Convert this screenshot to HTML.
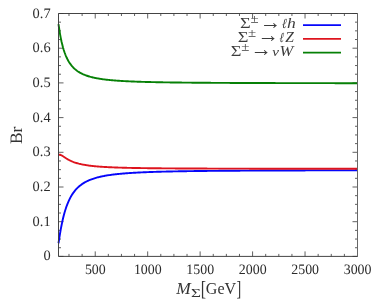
<!DOCTYPE html>
<html><head><meta charset="utf-8"><title>Br</title>
<style>html,body{margin:0;padding:0;background:#fff}body{width:382px;height:300px;overflow:hidden}</style></head>
<body>
<svg width="382" height="300" viewBox="0 0 382 300" style="display:block">
<rect width="382" height="300" fill="#fff"/>
<path d="M68.99,256.4 v-2.5 M68.99,13.5 v2.5 M82.11,256.4 v-2.5 M82.11,13.5 v2.5 M95.22,256.4 v-5 M95.22,13.5 v5 M108.33,256.4 v-2.5 M108.33,13.5 v2.5 M121.45,256.4 v-2.5 M121.45,13.5 v2.5 M134.56,256.4 v-2.5 M134.56,13.5 v2.5 M147.68,256.4 v-5 M147.68,13.5 v5 M160.79,256.4 v-2.5 M160.79,13.5 v2.5 M173.90,256.4 v-2.5 M173.90,13.5 v2.5 M187.02,256.4 v-2.5 M187.02,13.5 v2.5 M200.13,256.4 v-5 M200.13,13.5 v5 M213.25,256.4 v-2.5 M213.25,13.5 v2.5 M226.36,256.4 v-2.5 M226.36,13.5 v2.5 M239.47,256.4 v-2.5 M239.47,13.5 v2.5 M252.59,256.4 v-5 M252.59,13.5 v5 M265.70,256.4 v-2.5 M265.70,13.5 v2.5 M278.82,256.4 v-2.5 M278.82,13.5 v2.5 M291.93,256.4 v-2.5 M291.93,13.5 v2.5 M305.04,256.4 v-5 M305.04,13.5 v5 M318.16,256.4 v-2.5 M318.16,13.5 v2.5 M331.27,256.4 v-2.5 M331.27,13.5 v2.5 M344.39,256.4 v-2.5 M344.39,13.5 v2.5 M357.50,256.4 v-5 M357.50,13.5 v5 M58.5,256.40 h5 M357.5,256.40 h-5 M58.5,247.72 h2.5 M357.5,247.72 h-2.5 M58.5,239.05 h2.5 M357.5,239.05 h-2.5 M58.5,230.37 h2.5 M357.5,230.37 h-2.5 M58.5,221.70 h5 M357.5,221.70 h-5 M58.5,213.02 h2.5 M357.5,213.02 h-2.5 M58.5,204.35 h2.5 M357.5,204.35 h-2.5 M58.5,195.67 h2.5 M357.5,195.67 h-2.5 M58.5,187.00 h5 M357.5,187.00 h-5 M58.5,178.32 h2.5 M357.5,178.32 h-2.5 M58.5,169.65 h2.5 M357.5,169.65 h-2.5 M58.5,160.97 h2.5 M357.5,160.97 h-2.5 M58.5,152.30 h5 M357.5,152.30 h-5 M58.5,143.62 h2.5 M357.5,143.62 h-2.5 M58.5,134.95 h2.5 M357.5,134.95 h-2.5 M58.5,126.28 h2.5 M357.5,126.28 h-2.5 M58.5,117.60 h5 M357.5,117.60 h-5 M58.5,108.92 h2.5 M357.5,108.92 h-2.5 M58.5,100.25 h2.5 M357.5,100.25 h-2.5 M58.5,91.57 h2.5 M357.5,91.57 h-2.5 M58.5,82.90 h5 M357.5,82.90 h-5 M58.5,74.22 h2.5 M357.5,74.22 h-2.5 M58.5,65.55 h2.5 M357.5,65.55 h-2.5 M58.5,56.87 h2.5 M357.5,56.87 h-2.5 M58.5,48.20 h5 M357.5,48.20 h-5 M58.5,39.52 h2.5 M357.5,39.52 h-2.5 M58.5,30.85 h2.5 M357.5,30.85 h-2.5 M58.5,22.17 h2.5 M357.5,22.17 h-2.5 M58.5,13.50 h5 M357.5,13.50 h-5" stroke="#454545" stroke-width="0.85" fill="none"/>
<g fill="none" stroke-width="1.9" stroke-linejoin="round" stroke-linecap="butt">
<path d="M58.50,242.81 L59.25,237.91 L60.00,233.29 L60.75,228.99 L61.50,225.04 L62.25,221.43 L63.00,218.12 L63.75,215.10 L64.49,212.33 L65.24,209.80 L65.99,207.48 L66.74,205.34 L67.49,203.38 L68.24,201.57 L68.99,199.90 L69.74,198.35 L70.49,196.91 L71.24,195.58 L71.99,194.34 L72.74,193.19 L73.49,192.11 L74.24,191.11 L74.99,190.17 L75.74,189.29 L76.48,188.46 L77.23,187.69 L77.98,186.96 L78.73,186.27 L79.48,185.62 L80.23,185.01 L80.98,184.44 L81.73,183.89 L82.48,183.38 L83.23,182.89 L83.98,182.43 L84.73,181.99 L85.48,181.57 L86.23,181.17 L86.98,180.80 L87.73,180.44 L88.47,180.09 L89.22,179.77 L89.97,179.46 L90.72,179.16 L91.47,178.88 L92.22,178.60 L92.97,178.34 L93.72,178.10 L94.47,177.86 L95.22,177.63 L95.97,177.41 L96.72,177.20 L97.47,177.00 L98.22,176.80 L98.97,176.62 L99.72,176.44 L100.46,176.27 L101.21,176.10 L101.96,175.94 L102.71,175.79 L103.46,175.64 L104.21,175.49 L104.96,175.36 L105.71,175.22 L106.46,175.09 L107.21,174.97 L107.96,174.85 L108.71,174.73 L109.46,174.62 L110.21,174.51 L110.96,174.41 L111.71,174.31 L112.45,174.21 L113.20,174.11 L113.95,174.02 L114.70,173.93 L115.45,173.84 L116.20,173.76 L116.95,173.68 L117.70,173.60 L118.45,173.52 L119.20,173.45 L119.95,173.37 L120.70,173.30 L121.45,173.23 L122.20,173.17 L122.95,173.10 L123.70,173.04 L124.44,172.98 L125.19,172.92 L125.94,172.86 L126.69,172.80 L127.44,172.75 L128.19,172.69 L128.94,172.64 L129.69,172.59 L130.44,172.54 L131.19,172.49 L131.94,172.45 L132.69,172.40 L133.44,172.35 L134.19,172.31 L134.94,172.27 L135.69,172.23 L136.43,172.18 L137.18,172.15 L137.93,172.11 L138.68,172.07 L139.43,172.03 L140.18,171.99 L140.93,171.96 L141.68,171.92 L142.43,171.89 L143.18,171.86 L143.93,171.83 L144.68,171.79 L145.43,171.76 L146.18,171.73 L146.93,171.70 L147.68,171.67 L148.42,171.64 L149.17,171.62 L149.92,171.59 L150.67,171.56 L151.42,171.54 L152.17,171.51 L152.92,171.49 L153.67,171.46 L154.42,171.44 L155.17,171.41 L155.92,171.39 L156.67,171.37 L157.42,171.35 L158.17,171.32 L158.92,171.30 L159.67,171.28 L160.41,171.26 L161.16,171.24 L161.91,171.22 L162.66,171.20 L163.41,171.18 L164.16,171.16 L164.91,171.14 L165.66,171.13 L166.41,171.11 L167.16,171.09 L167.91,171.07 L168.66,171.06 L169.41,171.04 L170.16,171.02 L170.91,171.01 L171.66,170.99 L172.40,170.98 L173.15,170.96 L173.90,170.95 L174.65,170.93 L175.40,170.92 L176.15,170.90 L176.90,170.89 L177.65,170.88 L178.40,170.86 L179.15,170.85 L179.90,170.84 L180.65,170.82 L181.40,170.81 L182.15,170.80 L182.90,170.79 L183.65,170.77 L184.39,170.76 L185.14,170.75 L185.89,170.74 L186.64,170.73 L187.39,170.72 L188.14,170.71 L188.89,170.70 L189.64,170.68 L190.39,170.67 L191.14,170.66 L191.89,170.65 L192.64,170.64 L193.39,170.63 L194.14,170.62 L194.89,170.61 L195.64,170.61 L196.38,170.60 L197.13,170.59 L197.88,170.58 L198.63,170.57 L199.38,170.56 L200.13,170.55 L200.88,170.54 L201.63,170.53 L202.38,170.53 L203.13,170.52 L203.88,170.51 L204.63,170.50 L205.38,170.49 L206.13,170.49 L206.88,170.48 L207.63,170.47 L208.37,170.46 L209.12,170.46 L209.87,170.45 L210.62,170.44 L211.37,170.44 L212.12,170.43 L212.87,170.42 L213.62,170.42 L214.37,170.41 L215.12,170.40 L215.87,170.40 L216.62,170.39 L217.37,170.38 L218.12,170.38 L218.87,170.37 L219.62,170.36 L220.36,170.36 L221.11,170.35 L221.86,170.35 L222.61,170.34 L223.36,170.33 L224.11,170.33 L224.86,170.32 L225.61,170.32 L226.36,170.31 L227.11,170.31 L227.86,170.30 L228.61,170.30 L229.36,170.29 L230.11,170.29 L230.86,170.28 L231.61,170.28 L232.35,170.27 L233.10,170.27 L233.85,170.26 L234.60,170.26 L235.35,170.25 L236.10,170.25 L236.85,170.24 L237.60,170.24 L238.35,170.23 L239.10,170.23 L239.85,170.23 L240.60,170.22 L241.35,170.22 L242.10,170.21 L242.85,170.21 L243.60,170.20 L244.34,170.20 L245.09,170.20 L245.84,170.19 L246.59,170.19 L247.34,170.18 L248.09,170.18 L248.84,170.18 L249.59,170.17 L250.34,170.17 L251.09,170.17 L251.84,170.16 L252.59,170.16 L253.34,170.15 L254.09,170.15 L254.84,170.15 L255.59,170.14 L256.33,170.14 L257.08,170.14 L257.83,170.13 L258.58,170.13 L259.33,170.13 L260.08,170.12 L260.83,170.12 L261.58,170.12 L262.33,170.11 L263.08,170.11 L263.83,170.11 L264.58,170.10 L265.33,170.10 L266.08,170.10 L266.83,170.10 L267.58,170.09 L268.32,170.09 L269.07,170.09 L269.82,170.08 L270.57,170.08 L271.32,170.08 L272.07,170.08 L272.82,170.07 L273.57,170.07 L274.32,170.07 L275.07,170.06 L275.82,170.06 L276.57,170.06 L277.32,170.06 L278.07,170.05 L278.82,170.05 L279.57,170.05 L280.31,170.05 L281.06,170.04 L281.81,170.04 L282.56,170.04 L283.31,170.04 L284.06,170.03 L284.81,170.03 L285.56,170.03 L286.31,170.03 L287.06,170.02 L287.81,170.02 L288.56,170.02 L289.31,170.02 L290.06,170.02 L290.81,170.01 L291.56,170.01 L292.30,170.01 L293.05,170.01 L293.80,170.00 L294.55,170.00 L295.30,170.00 L296.05,170.00 L296.80,170.00 L297.55,169.99 L298.30,169.99 L299.05,169.99 L299.80,169.99 L300.55,169.99 L301.30,169.98 L302.05,169.98 L302.80,169.98 L303.55,169.98 L304.29,169.98 L305.04,169.98 L305.79,169.97 L306.54,169.97 L307.29,169.97 L308.04,169.97 L308.79,169.97 L309.54,169.96 L310.29,169.96 L311.04,169.96 L311.79,169.96 L312.54,169.96 L313.29,169.96 L314.04,169.95 L314.79,169.95 L315.54,169.95 L316.28,169.95 L317.03,169.95 L317.78,169.95 L318.53,169.94 L319.28,169.94 L320.03,169.94 L320.78,169.94 L321.53,169.94 L322.28,169.94 L323.03,169.93 L323.78,169.93 L324.53,169.93 L325.28,169.93 L326.03,169.93 L326.78,169.93 L327.53,169.93 L328.27,169.92 L329.02,169.92 L329.77,169.92 L330.52,169.92 L331.27,169.92 L332.02,169.92 L332.77,169.92 L333.52,169.91 L334.27,169.91 L335.02,169.91 L335.77,169.91 L336.52,169.91 L337.27,169.91 L338.02,169.91 L338.77,169.91 L339.52,169.90 L340.26,169.90 L341.01,169.90 L341.76,169.90 L342.51,169.90 L343.26,169.90 L344.01,169.90 L344.76,169.90 L345.51,169.89 L346.26,169.89 L347.01,169.89 L347.76,169.89 L348.51,169.89 L349.26,169.89 L350.01,169.89 L350.76,169.89 L351.51,169.88 L352.25,169.88 L353.00,169.88 L353.75,169.88 L354.50,169.88 L355.25,169.88 L356.00,169.88 L356.75,169.88 L357.50,169.88" stroke="#0606fa" transform="translate(0,0.45)"/>
<path d="M58.50,155.80 L59.25,155.50 L60.00,155.54 L60.75,155.79 L61.50,156.16 L62.25,156.61 L63.00,157.10 L63.75,157.60 L64.49,158.10 L65.24,158.60 L65.99,159.08 L66.74,159.54 L67.49,159.98 L68.24,160.41 L68.99,160.81 L69.74,161.19 L70.49,161.55 L71.24,161.89 L71.99,162.22 L72.74,162.53 L73.49,162.82 L74.24,163.09 L74.99,163.35 L75.74,163.60 L76.48,163.83 L77.23,164.05 L77.98,164.26 L78.73,164.46 L79.48,164.64 L80.23,164.82 L80.98,164.99 L81.73,165.15 L82.48,165.31 L83.23,165.45 L83.98,165.59 L84.73,165.72 L85.48,165.85 L86.23,165.97 L86.98,166.09 L87.73,166.20 L88.47,166.30 L89.22,166.40 L89.97,166.50 L90.72,166.59 L91.47,166.68 L92.22,166.76 L92.97,166.84 L93.72,166.92 L94.47,166.99 L95.22,167.07 L95.97,167.14 L96.72,167.20 L97.47,167.27 L98.22,167.33 L98.97,167.39 L99.72,167.44 L100.46,167.50 L101.21,167.55 L101.96,167.60 L102.71,167.65 L103.46,167.70 L104.21,167.74 L104.96,167.79 L105.71,167.83 L106.46,167.87 L107.21,167.91 L107.96,167.95 L108.71,167.99 L109.46,168.02 L110.21,168.06 L110.96,168.09 L111.71,168.12 L112.45,168.16 L113.20,168.19 L113.95,168.22 L114.70,168.24 L115.45,168.27 L116.20,168.30 L116.95,168.33 L117.70,168.35 L118.45,168.38 L119.20,168.40 L119.95,168.43 L120.70,168.45 L121.45,168.47 L122.20,168.49 L122.95,168.51 L123.70,168.53 L124.44,168.55 L125.19,168.57 L125.94,168.59 L126.69,168.61 L127.44,168.63 L128.19,168.65 L128.94,168.66 L129.69,168.68 L130.44,168.70 L131.19,168.71 L131.94,168.73 L132.69,168.74 L133.44,168.76 L134.19,168.77 L134.94,168.79 L135.69,168.80 L136.43,168.81 L137.18,168.83 L137.93,168.84 L138.68,168.85 L139.43,168.86 L140.18,168.87 L140.93,168.89 L141.68,168.90 L142.43,168.91 L143.18,168.92 L143.93,168.93 L144.68,168.94 L145.43,168.95 L146.18,168.96 L146.93,168.97 L147.68,168.98 L148.42,168.99 L149.17,169.00 L149.92,169.01 L150.67,169.02 L151.42,169.03 L152.17,169.03 L152.92,169.04 L153.67,169.05 L154.42,169.06 L155.17,169.07 L155.92,169.07 L156.67,169.08 L157.42,169.09 L158.17,169.10 L158.92,169.10 L159.67,169.11 L160.41,169.12 L161.16,169.12 L161.91,169.13 L162.66,169.14 L163.41,169.14 L164.16,169.15 L164.91,169.15 L165.66,169.16 L166.41,169.17 L167.16,169.17 L167.91,169.18 L168.66,169.18 L169.41,169.19 L170.16,169.19 L170.91,169.20 L171.66,169.20 L172.40,169.21 L173.15,169.21 L173.90,169.22 L174.65,169.22 L175.40,169.23 L176.15,169.23 L176.90,169.24 L177.65,169.24 L178.40,169.25 L179.15,169.25 L179.90,169.26 L180.65,169.26 L181.40,169.26 L182.15,169.27 L182.90,169.27 L183.65,169.28 L184.39,169.28 L185.14,169.28 L185.89,169.29 L186.64,169.29 L187.39,169.30 L188.14,169.30 L188.89,169.30 L189.64,169.31 L190.39,169.31 L191.14,169.31 L191.89,169.32 L192.64,169.32 L193.39,169.32 L194.14,169.33 L194.89,169.33 L195.64,169.33 L196.38,169.34 L197.13,169.34 L197.88,169.34 L198.63,169.34 L199.38,169.35 L200.13,169.35 L200.88,169.35 L201.63,169.36 L202.38,169.36 L203.13,169.36 L203.88,169.36 L204.63,169.37 L205.38,169.37 L206.13,169.37 L206.88,169.37 L207.63,169.38 L208.37,169.38 L209.12,169.38 L209.87,169.38 L210.62,169.39 L211.37,169.39 L212.12,169.39 L212.87,169.39 L213.62,169.40 L214.37,169.40 L215.12,169.40 L215.87,169.40 L216.62,169.40 L217.37,169.41 L218.12,169.41 L218.87,169.41 L219.62,169.41 L220.36,169.41 L221.11,169.42 L221.86,169.42 L222.61,169.42 L223.36,169.42 L224.11,169.42 L224.86,169.43 L225.61,169.43 L226.36,169.43 L227.11,169.43 L227.86,169.43 L228.61,169.43 L229.36,169.44 L230.11,169.44 L230.86,169.44 L231.61,169.44 L232.35,169.44 L233.10,169.44 L233.85,169.45 L234.60,169.45 L235.35,169.45 L236.10,169.45 L236.85,169.45 L237.60,169.45 L238.35,169.46 L239.10,169.46 L239.85,169.46 L240.60,169.46 L241.35,169.46 L242.10,169.46 L242.85,169.46 L243.60,169.47 L244.34,169.47 L245.09,169.47 L245.84,169.47 L246.59,169.47 L247.34,169.47 L248.09,169.47 L248.84,169.47 L249.59,169.48 L250.34,169.48 L251.09,169.48 L251.84,169.48 L252.59,169.48 L253.34,169.48 L254.09,169.48 L254.84,169.48 L255.59,169.49 L256.33,169.49 L257.08,169.49 L257.83,169.49 L258.58,169.49 L259.33,169.49 L260.08,169.49 L260.83,169.49 L261.58,169.49 L262.33,169.50 L263.08,169.50 L263.83,169.50 L264.58,169.50 L265.33,169.50 L266.08,169.50 L266.83,169.50 L267.58,169.50 L268.32,169.50 L269.07,169.50 L269.82,169.51 L270.57,169.51 L271.32,169.51 L272.07,169.51 L272.82,169.51 L273.57,169.51 L274.32,169.51 L275.07,169.51 L275.82,169.51 L276.57,169.51 L277.32,169.51 L278.07,169.52 L278.82,169.52 L279.57,169.52 L280.31,169.52 L281.06,169.52 L281.81,169.52 L282.56,169.52 L283.31,169.52 L284.06,169.52 L284.81,169.52 L285.56,169.52 L286.31,169.52 L287.06,169.53 L287.81,169.53 L288.56,169.53 L289.31,169.53 L290.06,169.53 L290.81,169.53 L291.56,169.53 L292.30,169.53 L293.05,169.53 L293.80,169.53 L294.55,169.53 L295.30,169.53 L296.05,169.53 L296.80,169.53 L297.55,169.54 L298.30,169.54 L299.05,169.54 L299.80,169.54 L300.55,169.54 L301.30,169.54 L302.05,169.54 L302.80,169.54 L303.55,169.54 L304.29,169.54 L305.04,169.54 L305.79,169.54 L306.54,169.54 L307.29,169.54 L308.04,169.54 L308.79,169.54 L309.54,169.55 L310.29,169.55 L311.04,169.55 L311.79,169.55 L312.54,169.55 L313.29,169.55 L314.04,169.55 L314.79,169.55 L315.54,169.55 L316.28,169.55 L317.03,169.55 L317.78,169.55 L318.53,169.55 L319.28,169.55 L320.03,169.55 L320.78,169.55 L321.53,169.55 L322.28,169.55 L323.03,169.56 L323.78,169.56 L324.53,169.56 L325.28,169.56 L326.03,169.56 L326.78,169.56 L327.53,169.56 L328.27,169.56 L329.02,169.56 L329.77,169.56 L330.52,169.56 L331.27,169.56 L332.02,169.56 L332.77,169.56 L333.52,169.56 L334.27,169.56 L335.02,169.56 L335.77,169.56 L336.52,169.56 L337.27,169.56 L338.02,169.56 L338.77,169.56 L339.52,169.57 L340.26,169.57 L341.01,169.57 L341.76,169.57 L342.51,169.57 L343.26,169.57 L344.01,169.57 L344.76,169.57 L345.51,169.57 L346.26,169.57 L347.01,169.57 L347.76,169.57 L348.51,169.57 L349.26,169.57 L350.01,169.57 L350.76,169.57 L351.51,169.57 L352.25,169.57 L353.00,169.57 L353.75,169.57 L354.50,169.57 L355.25,169.57 L356.00,169.57 L356.75,169.57 L357.50,169.57" stroke="#de141e" transform="translate(0,-0.8)"/>
<path d="M58.50,23.59 L59.25,28.79 L60.00,33.38 L60.75,37.42 L61.50,40.99 L62.25,44.16 L63.00,46.98 L63.75,49.50 L64.49,51.77 L65.24,53.80 L65.99,55.65 L66.74,57.32 L67.49,58.84 L68.24,60.23 L68.99,61.50 L69.74,62.66 L70.49,63.74 L71.24,64.72 L71.99,65.64 L72.74,66.49 L73.49,67.27 L74.24,68.00 L74.99,68.68 L75.74,69.32 L76.48,69.91 L77.23,70.47 L77.98,70.99 L78.73,71.47 L79.48,71.93 L80.23,72.36 L80.98,72.77 L81.73,73.15 L82.48,73.52 L83.23,73.86 L83.98,74.18 L84.73,74.49 L85.48,74.78 L86.23,75.06 L86.98,75.32 L87.73,75.57 L88.47,75.80 L89.22,76.03 L89.97,76.25 L90.72,76.45 L91.47,76.65 L92.22,76.83 L92.97,77.01 L93.72,77.18 L94.47,77.35 L95.22,77.50 L95.97,77.66 L96.72,77.80 L97.47,77.94 L98.22,78.07 L98.97,78.20 L99.72,78.32 L100.46,78.44 L101.21,78.55 L101.96,78.66 L102.71,78.76 L103.46,78.87 L104.21,78.96 L104.96,79.06 L105.71,79.15 L106.46,79.24 L107.21,79.32 L107.96,79.40 L108.71,79.48 L109.46,79.56 L110.21,79.63 L110.96,79.70 L111.71,79.77 L112.45,79.84 L113.20,79.90 L113.95,79.96 L114.70,80.03 L115.45,80.08 L116.20,80.14 L116.95,80.20 L117.70,80.25 L118.45,80.30 L119.20,80.35 L119.95,80.40 L120.70,80.45 L121.45,80.50 L122.20,80.54 L122.95,80.58 L123.70,80.63 L124.44,80.67 L125.19,80.71 L125.94,80.75 L126.69,80.79 L127.44,80.82 L128.19,80.86 L128.94,80.90 L129.69,80.93 L130.44,80.96 L131.19,81.00 L131.94,81.03 L132.69,81.06 L133.44,81.09 L134.19,81.12 L134.94,81.15 L135.69,81.18 L136.43,81.20 L137.18,81.23 L137.93,81.26 L138.68,81.28 L139.43,81.31 L140.18,81.33 L140.93,81.35 L141.68,81.38 L142.43,81.40 L143.18,81.42 L143.93,81.44 L144.68,81.47 L145.43,81.49 L146.18,81.51 L146.93,81.53 L147.68,81.55 L148.42,81.57 L149.17,81.58 L149.92,81.60 L150.67,81.62 L151.42,81.64 L152.17,81.66 L152.92,81.67 L153.67,81.69 L154.42,81.70 L155.17,81.72 L155.92,81.74 L156.67,81.75 L157.42,81.77 L158.17,81.78 L158.92,81.80 L159.67,81.81 L160.41,81.82 L161.16,81.84 L161.91,81.85 L162.66,81.86 L163.41,81.88 L164.16,81.89 L164.91,81.90 L165.66,81.91 L166.41,81.93 L167.16,81.94 L167.91,81.95 L168.66,81.96 L169.41,81.97 L170.16,81.98 L170.91,81.99 L171.66,82.00 L172.40,82.01 L173.15,82.02 L173.90,82.03 L174.65,82.04 L175.40,82.05 L176.15,82.06 L176.90,82.07 L177.65,82.08 L178.40,82.09 L179.15,82.10 L179.90,82.11 L180.65,82.12 L181.40,82.12 L182.15,82.13 L182.90,82.14 L183.65,82.15 L184.39,82.16 L185.14,82.16 L185.89,82.17 L186.64,82.18 L187.39,82.19 L188.14,82.19 L188.89,82.20 L189.64,82.21 L190.39,82.22 L191.14,82.22 L191.89,82.23 L192.64,82.24 L193.39,82.24 L194.14,82.25 L194.89,82.26 L195.64,82.26 L196.38,82.27 L197.13,82.27 L197.88,82.28 L198.63,82.29 L199.38,82.29 L200.13,82.30 L200.88,82.30 L201.63,82.31 L202.38,82.31 L203.13,82.32 L203.88,82.33 L204.63,82.33 L205.38,82.34 L206.13,82.34 L206.88,82.35 L207.63,82.35 L208.37,82.36 L209.12,82.36 L209.87,82.37 L210.62,82.37 L211.37,82.38 L212.12,82.38 L212.87,82.38 L213.62,82.39 L214.37,82.39 L215.12,82.40 L215.87,82.40 L216.62,82.41 L217.37,82.41 L218.12,82.42 L218.87,82.42 L219.62,82.42 L220.36,82.43 L221.11,82.43 L221.86,82.44 L222.61,82.44 L223.36,82.44 L224.11,82.45 L224.86,82.45 L225.61,82.45 L226.36,82.46 L227.11,82.46 L227.86,82.46 L228.61,82.47 L229.36,82.47 L230.11,82.48 L230.86,82.48 L231.61,82.48 L232.35,82.49 L233.10,82.49 L233.85,82.49 L234.60,82.49 L235.35,82.50 L236.10,82.50 L236.85,82.50 L237.60,82.51 L238.35,82.51 L239.10,82.51 L239.85,82.52 L240.60,82.52 L241.35,82.52 L242.10,82.52 L242.85,82.53 L243.60,82.53 L244.34,82.53 L245.09,82.54 L245.84,82.54 L246.59,82.54 L247.34,82.54 L248.09,82.55 L248.84,82.55 L249.59,82.55 L250.34,82.55 L251.09,82.56 L251.84,82.56 L252.59,82.56 L253.34,82.56 L254.09,82.57 L254.84,82.57 L255.59,82.57 L256.33,82.57 L257.08,82.58 L257.83,82.58 L258.58,82.58 L259.33,82.58 L260.08,82.58 L260.83,82.59 L261.58,82.59 L262.33,82.59 L263.08,82.59 L263.83,82.59 L264.58,82.60 L265.33,82.60 L266.08,82.60 L266.83,82.60 L267.58,82.60 L268.32,82.61 L269.07,82.61 L269.82,82.61 L270.57,82.61 L271.32,82.61 L272.07,82.62 L272.82,82.62 L273.57,82.62 L274.32,82.62 L275.07,82.62 L275.82,82.63 L276.57,82.63 L277.32,82.63 L278.07,82.63 L278.82,82.63 L279.57,82.63 L280.31,82.64 L281.06,82.64 L281.81,82.64 L282.56,82.64 L283.31,82.64 L284.06,82.64 L284.81,82.65 L285.56,82.65 L286.31,82.65 L287.06,82.65 L287.81,82.65 L288.56,82.65 L289.31,82.65 L290.06,82.66 L290.81,82.66 L291.56,82.66 L292.30,82.66 L293.05,82.66 L293.80,82.66 L294.55,82.66 L295.30,82.67 L296.05,82.67 L296.80,82.67 L297.55,82.67 L298.30,82.67 L299.05,82.67 L299.80,82.67 L300.55,82.68 L301.30,82.68 L302.05,82.68 L302.80,82.68 L303.55,82.68 L304.29,82.68 L305.04,82.68 L305.79,82.68 L306.54,82.69 L307.29,82.69 L308.04,82.69 L308.79,82.69 L309.54,82.69 L310.29,82.69 L311.04,82.69 L311.79,82.69 L312.54,82.70 L313.29,82.70 L314.04,82.70 L314.79,82.70 L315.54,82.70 L316.28,82.70 L317.03,82.70 L317.78,82.70 L318.53,82.70 L319.28,82.70 L320.03,82.71 L320.78,82.71 L321.53,82.71 L322.28,82.71 L323.03,82.71 L323.78,82.71 L324.53,82.71 L325.28,82.71 L326.03,82.71 L326.78,82.72 L327.53,82.72 L328.27,82.72 L329.02,82.72 L329.77,82.72 L330.52,82.72 L331.27,82.72 L332.02,82.72 L332.77,82.72 L333.52,82.72 L334.27,82.72 L335.02,82.73 L335.77,82.73 L336.52,82.73 L337.27,82.73 L338.02,82.73 L338.77,82.73 L339.52,82.73 L340.26,82.73 L341.01,82.73 L341.76,82.73 L342.51,82.73 L343.26,82.73 L344.01,82.74 L344.76,82.74 L345.51,82.74 L346.26,82.74 L347.01,82.74 L347.76,82.74 L348.51,82.74 L349.26,82.74 L350.01,82.74 L350.76,82.74 L351.51,82.74 L352.25,82.74 L353.00,82.75 L353.75,82.75 L354.50,82.75 L355.25,82.75 L356.00,82.75 L356.75,82.75 L357.50,82.75" stroke="#068006" transform="translate(0,0.45)"/>
<path d="M303,25.1 H341" stroke="#0606fa" stroke-width="1.8"/>
<path d="M303,38.9 H341" stroke="#de141e" stroke-width="1.8"/>
<path d="M303,52.65 H341" stroke="#068006" stroke-width="1.8"/>
</g>
<path d="M357.5,13.5 H58.5 V256.4 H357.5" fill="none" stroke="#3a3a3a" stroke-width="0.95" stroke-linejoin="miter"/>
<path d="M357.5,13.0 V256.9" fill="none" stroke="#666" stroke-width="1"/>
<g font-family="'Liberation Serif', serif" font-size="14.4" fill="#2a2a2a" style="text-rendering:geometricPrecision">
<text transform="translate(50.6,259.80) scale(1.0,1)" text-anchor="end">0</text>
<text transform="translate(50.6,225.80) scale(1.0,1)" text-anchor="end">0.1</text>
<text transform="translate(50.6,191.10) scale(1.0,1)" text-anchor="end">0.2</text>
<text transform="translate(50.6,156.40) scale(1.0,1)" text-anchor="end">0.3</text>
<text transform="translate(50.6,121.70) scale(1.0,1)" text-anchor="end">0.4</text>
<text transform="translate(50.6,87.00) scale(1.0,1)" text-anchor="end">0.5</text>
<text transform="translate(50.6,52.30) scale(1.0,1)" text-anchor="end">0.6</text>
<text transform="translate(50.6,17.60) scale(1.0,1)" text-anchor="end">0.7</text>
<text transform="translate(95.32,274.4) scale(0.965,1)" text-anchor="middle">500</text>
<text transform="translate(147.78,274.4) scale(0.965,1)" text-anchor="middle">1000</text>
<text transform="translate(200.23,274.4) scale(0.965,1)" text-anchor="middle">1500</text>
<text transform="translate(252.69,274.4) scale(0.965,1)" text-anchor="middle">2000</text>
<text transform="translate(305.14,274.4) scale(0.965,1)" text-anchor="middle">2500</text>
<text transform="translate(357.60,274.4) scale(0.965,1)" text-anchor="middle">3000</text>
</g>
<g fill="#3c3c3c">
<text transform="matrix(1.8367 0 -0.0000 1.3893 240.07 28.30)" font-size="10" font-family="'Liberation Serif', serif" font-style="normal">Σ</text>
<text transform="matrix(1.4839 0 -0.0000 1.3036 250.51 23.40)" font-size="10" font-family="'Liberation Serif', serif" font-style="normal">±</text>
<text transform="matrix(2.1356 0 -0.0000 2.2128 259.62 28.61)" font-size="10" font-family="'Liberation Serif', serif" font-style="normal">→</text>
<text transform="matrix(1.1359 0 -0.0844 1.4074 281.78 28.16)" font-size="10" font-family="'Liberation Serif', serif" font-style="italic">ℓ</text>
<text transform="matrix(1.7647 0 0.0000 1.3869 286.88 28.37)" font-size="10" font-family="'Liberation Serif', serif" font-style="italic">h</text>
<text transform="matrix(1.8367 0 -0.0000 1.3893 237.67 41.70)" font-size="10" font-family="'Liberation Serif', serif" font-style="normal">Σ</text>
<text transform="matrix(1.4839 0 -0.0000 1.3036 248.11 36.80)" font-size="10" font-family="'Liberation Serif', serif" font-style="normal">±</text>
<text transform="matrix(2.1356 0 -0.0000 2.2128 257.22 42.01)" font-size="10" font-family="'Liberation Serif', serif" font-style="normal">→</text>
<text transform="matrix(1.0590 0 -0.0844 1.4074 279.30 41.56)" font-size="10" font-family="'Liberation Serif', serif" font-style="italic">ℓ</text>
<text transform="matrix(1.5455 0 0.0000 1.4000 285.27 41.70)" font-size="10" font-family="'Liberation Serif', serif" font-style="italic">Z</text>
<text transform="matrix(1.8367 0 -0.0000 1.3893 230.77 56.40)" font-size="10" font-family="'Liberation Serif', serif" font-style="normal">Σ</text>
<text transform="matrix(1.4839 0 -0.0000 1.3036 241.21 50.50)" font-size="10" font-family="'Liberation Serif', serif" font-style="normal">±</text>
<text transform="matrix(2.1356 0 -0.0000 2.2128 250.32 55.71)" font-size="10" font-family="'Liberation Serif', serif" font-style="normal">→</text>
<text transform="matrix(1.5116 0 0.0000 1.3333 272.17 56.37)" font-size="10" font-family="'Liberation Serif', serif" font-style="italic">ν</text>
<text transform="matrix(1.6568 0 0.0000 1.3985 279.52 56.29)" font-size="10" font-family="'Liberation Serif', serif" font-style="italic">W</text>
</g>
<g fill="#333">
<text transform="translate(21.7,144.1) rotate(-90)" style="text-rendering:geometricPrecision" font-family="'Liberation Serif', serif" font-size="17.45">Br</text>
<text transform="matrix(1.7416 0 -0.0000 1.7231 176.17 293.70)" font-size="10" font-family="'Liberation Serif', serif" font-style="italic">M</text>
<text transform="matrix(1.7143 0 -0.0000 1.1450 190.91 296.50)" font-size="10" font-family="'Liberation Serif', serif" font-style="normal">Σ</text>
<text transform="matrix(1.5909 0 -0.0000 2.0000 200.81 295.30)" font-size="10" font-family="'Liberation Serif', serif" font-style="normal">[</text>
<text transform="matrix(1.6076 0 -0.0000 1.7333 205.86 293.74)" font-size="10" font-family="'Liberation Serif', serif" font-style="normal">GeV</text>
<text transform="matrix(1.4222 0 -0.0000 2.0000 236.50 295.30)" font-size="10" font-family="'Liberation Serif', serif" font-style="normal">]</text>
</g>
</svg>
</body></html>
